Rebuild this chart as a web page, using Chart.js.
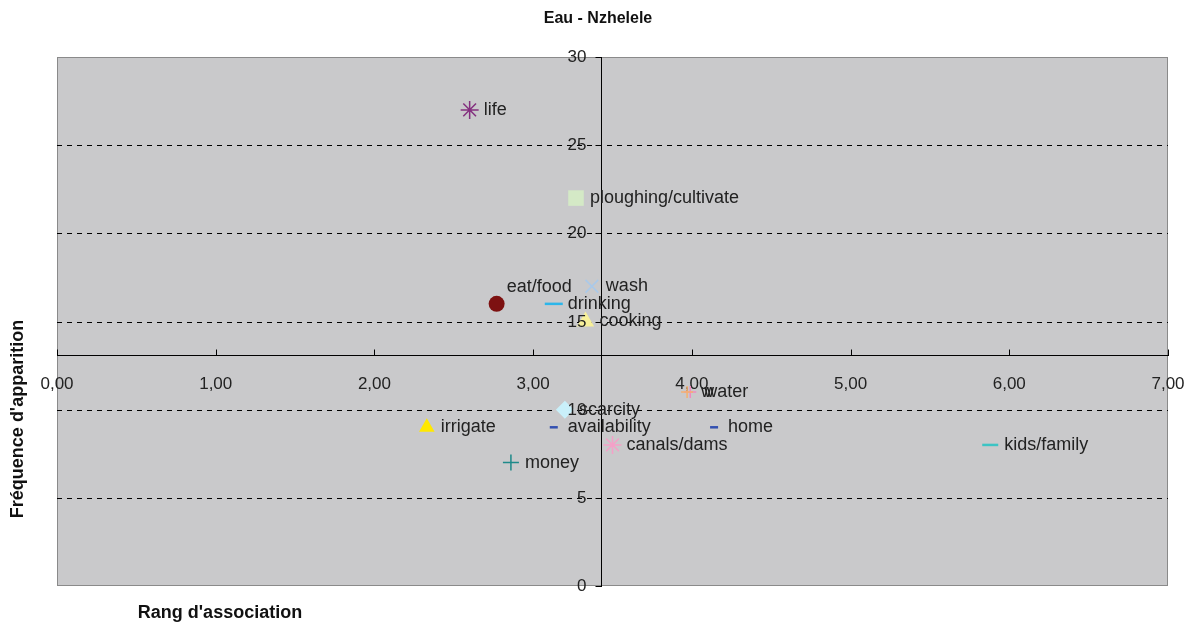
<!DOCTYPE html>
<html>
<head>
<meta charset="utf-8">
<script src="https://cdn.jsdelivr.net/npm/chart.js@4/dist/chart.umd.min.js"></script>
<style>
  html, body { margin: 0; padding: 0; background: #fff; }
  #wrap { width: 1197px; height: 628px; position: relative; }
</style>
</head>
<body>
<div id="wrap"><canvas id="chart" width="1197" height="628"></canvas></div>
<script>
// data
const categories = ["life", "ploughing/cultivate", "eat/food", "wash", "drinking", "cooking",
  "water", "w", "scarcity", "availability", "irrigate", "home", "canals/dams", "kids/family", "money"];
const rangValues = [2.60, 3.27, 2.77, 3.37, 3.13, 3.33, 3.99, 3.97, 3.20, 3.13, 2.33, 4.14, 3.50, 5.88, 2.86];
const freqValues = [27, 22, 16, 17, 16, 15, 11, 11, 10, 9, 9, 9, 8, 8, 7];
const xTicks = [0, 1, 2, 3, 4, 5, 6, 7];
const yTicks = [0, 5, 10, 15, 20, 25, 30];
const xCross = 3.43;   // where the vertical axis crosses
const yCross = 13.1;   // where the horizontal axis crosses

// marker styles
const markerStyles = ["star", "rect", "circle", "crossRot", "line", "triangle",
  "cross", "cross", "rectRot", "line", "triangle", "line", "star", "line", "cross"];
const markerColors = ["#84307f", "#d4e9c6", "#7d1111", "#a9c9ea", "#2cb6ea", "#f7f09a",
  "#f08ac0", "#f5b070", "#c9f0fa", "#3350b0", "#ffe800", "#3350b0", "#f5a0c8", "#3cc4c4", "#1e8a8a"];
const markerSizes = [9, 11, 8, 9, 9, 10, 6, 6, 9, 4, 9, 4, 9, 8, 8];
const labelAbove = ["eat/food"];

const points = rangValues.map((x, i) => ({ x: x, y: freqValues[i] }));
const fillStyles = ["rect", "circle", "triangle", "rectRot"];
const FONT = "'Liberation Sans', Arial, sans-serif";

const chartDecor = {
  id: "chartDecor",
  beforeDraw(chart) {
    const { ctx, chartArea: a } = chart;
    ctx.save();
    ctx.fillStyle = "#c9c9cb";
    ctx.fillRect(a.left, a.top, a.right - a.left, a.bottom - a.top);
    ctx.strokeStyle = "#8a8a8a";
    ctx.lineWidth = 1;
    ctx.strokeRect(a.left + 0.5, a.top + 0.5, a.right - a.left - 1, a.bottom - a.top - 1);
    ctx.restore();
  },
  beforeDatasetsDraw(chart) {
    const { ctx, chartArea: a, scales } = chart;
    ctx.save();
    ctx.strokeStyle = "#000";
    ctx.lineWidth = 1;
    ctx.setLineDash([5, 5]);
    yTicks.forEach(v => {
      if (v === 0 || v === 30) return;
      const py = Math.round(scales.y.getPixelForValue(v)) + 0.5;
      ctx.beginPath();
      ctx.moveTo(a.left, py);
      ctx.lineTo(a.right, py);
      ctx.stroke();
    });
    ctx.restore();
  },
  afterDraw(chart) {
    const { ctx, scales } = chart;
    const x = scales.x, y = scales.y;
    ctx.save();
    // x tick marks pointing up from the axis line, y tick marks to the left
    const yAxisPx = Math.round(y.getPixelForValue(yCross)) + 0.5;
    const xAxisPx = Math.round(x.getPixelForValue(xCross)) + 0.5;
    ctx.strokeStyle = "#000";
    ctx.lineWidth = 1;
    xTicks.forEach(v => {
      const px = Math.round(x.getPixelForValue(v)) + 0.5;
      ctx.beginPath();
      ctx.moveTo(px, yAxisPx);
      ctx.lineTo(px, yAxisPx - 6);
      ctx.stroke();
    });
    ctx.fillStyle = "#222";
    ctx.font = "17px " + FONT;
    ctx.textBaseline = "middle";
    ctx.textAlign = "right";
    yTicks.forEach(v => {
      const py = Math.round(y.getPixelForValue(v)) + 0.5;
      ctx.beginPath();
      ctx.moveTo(xAxisPx, py);
      ctx.lineTo(xAxisPx - 6, py);
      ctx.stroke();
      ctx.fillText(String(v), xAxisPx - 15, py);
    });
    // point labels
    ctx.font = "18px " + FONT;
    ctx.textAlign = "left";
    categories.forEach((c, i) => {
      const px = x.getPixelForValue(rangValues[i]);
      const py = y.getPixelForValue(freqValues[i]);
      if (labelAbove.includes(c)) {
        ctx.fillText(c, px + 10, py - 17);
      } else {
        ctx.fillText(c, px + 14, py);
      }
    });
    // titles
    ctx.font = "bold 16px " + FONT;
    ctx.textAlign = "center";
    ctx.fillStyle = "#111";
    ctx.fillText("Eau - Nzhelele", 598, 19);
    ctx.font = "bold 18px " + FONT;
    ctx.fillText("Rang d'association", 220, 613);
    ctx.translate(18, 419);
    ctx.rotate(-Math.PI / 2);
    ctx.fillText("Fréquence d'apparition", 0, 0);
    ctx.restore();
  }
};

new Chart(document.getElementById("chart"), {
  type: "scatter",
  data: {
    datasets: [{
      data: points,
      pointStyle: markerStyles,
      pointRadius: markerSizes,
      pointHoverRadius: markerSizes,
      borderColor: markerColors,
      backgroundColor: markerColors.map((c, i) => fillStyles.includes(markerStyles[i]) ? c : "transparent"),
      pointBorderWidth: markerStyles.map(s => s === "line" ? 2.5 : (fillStyles.includes(s) ? 0 : 1.5))
    }]
  },
  options: {
    responsive: false,
    animation: false,
    devicePixelRatio: 1,
    layout: { padding: { left: 57, right: 29, top: 57, bottom: 42 } },
    plugins: { legend: { display: false }, tooltip: { enabled: false }, title: { display: false } },
    scales: {
      x: {
        type: "linear",
        min: 0, max: 7,
        position: { y: yCross },
        afterBuildTicks: s => { s.ticks = xTicks.map(v => ({ value: v })); },
        afterFit: s => { s.paddingLeft = 0; s.paddingRight = 0; },
        grid: { display: false, drawTicks: false },
        border: { display: true, color: "#000", width: 1 },
        ticks: {
          autoSkip: false,
          maxRotation: 0,
          padding: 19,
          color: "#222",
          font: { size: 17, family: FONT },
          callback: v => v.toFixed(2).replace(".", ",")
        }
      },
      y: {
        type: "linear",
        min: 0, max: 30,
        position: { x: xCross },
        afterBuildTicks: s => { s.ticks = yTicks.map(v => ({ value: v })); },
        afterFit: s => { s.paddingTop = 0; s.paddingBottom = 0; },
        grid: { display: false, drawTicks: false },
        border: { display: true, color: "#000", width: 1 },
        ticks: { display: false }
      }
    }
  },
  plugins: [chartDecor]
});
</script>
</body>
</html>
